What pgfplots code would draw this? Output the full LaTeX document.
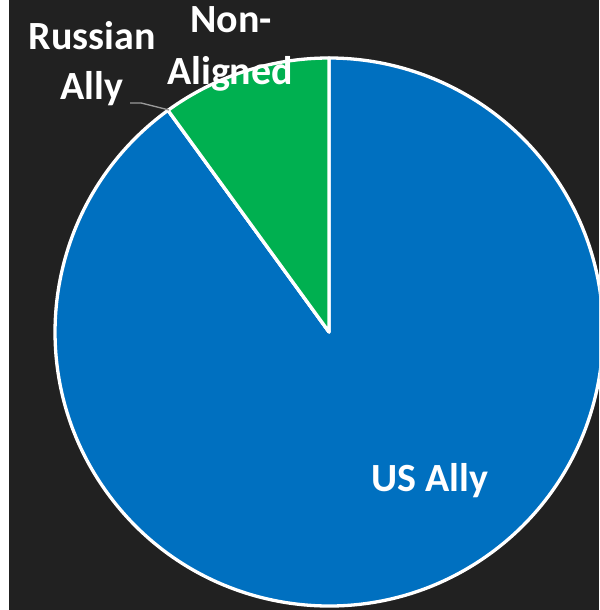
\documentclass[border=0pt]{standalone}
\usepackage{pgfplots}
\pgfplotsset{compat=1.18}
\usepackage{pgfplotstable}
\usepackage{fontspec}
\setmainfont{Carlito}
\definecolor{bg}{HTML}{212121}
\definecolor{usblue}{HTML}{0070C0}
\definecolor{nagreen}{HTML}{00B050}
\definecolor{leader}{HTML}{9A9A9A}

\pgfplotstableread{
label value
USAlly 90
NonAligned 10
RussianAlly 0
}\piedata

\begin{document}
\pgfplotstablegetelem{0}{value}\of\piedata \let\vUS\pgfplotsretval
\pgfplotstablegetelem{1}{value}\of\piedata \let\vNA\pgfplotsretval
\pgfplotstablegetelem{2}{value}\of\piedata \let\vRU\pgfplotsretval
\pgfmathsetmacro\total{\vUS+\vNA+\vRU}
\pgfmathsetmacro\aNA{90+360*(\vNA/\total)}
\pgfmathsetmacro\aRU{\aNA+360*(\vRU/\total)}
\pgfmathsetmacro\aUS{\aRU+360*(\vUS/\total)}
\begin{tikzpicture}
\useasboundingbox (0,0) rectangle (590pt,610pt);
\clip (0,0) rectangle (590pt,610pt);
\fill[bg] (0,0) rectangle (590pt,610pt);
\begin{axis}[x=1pt,y=1pt,xmin=0,xmax=590,ymin=0,ymax=610,
  anchor=origin, at={(0,0)},
  hide axis, scale only axis, clip=true]
\fill[bg] (axis cs:0,0) rectangle (axis cs:590,610);
% US Ally
\filldraw[fill=usblue, draw=white, line width=3.3pt, line join=round]
  (axis cs:320,278) -- ++(\aRU:274pt) arc[start angle=\aRU, end angle=\aUS, radius=274pt] -- cycle;
% Russian Ally (zero-size slice)
\filldraw[fill=red, draw=white, line width=3.3pt, line join=round]
  (axis cs:320,278) -- ++(\aNA:274pt) -- cycle;
% Non-Aligned
\filldraw[fill=nagreen, draw=white, line width=3.3pt, line join=round]
  (axis cs:320,278) -- ++(90:274pt) arc[start angle=90, end angle=\aNA, radius=274pt] -- cycle;
% leader line
\draw[leader, line width=1.3pt] (axis cs:121,507) -- (axis cs:132,507) -- (axis cs:160,500);
% labels
\tikzset{lab/.style={text=white, font=\fontsize{40}{48}\selectfont\bfseries, anchor=base, inner sep=0pt}}
\node[lab] at (axis cs:83,560) {Russian};
\node[lab] at (axis cs:83,510) {Ally};
\node[lab] at (axis cs:222,577) {Non-};
\node[lab] at (axis cs:221,525) {Aligned};
\node[lab] at (axis cs:421,118) {US Ally};
\end{axis}
\end{tikzpicture}
\end{document}
